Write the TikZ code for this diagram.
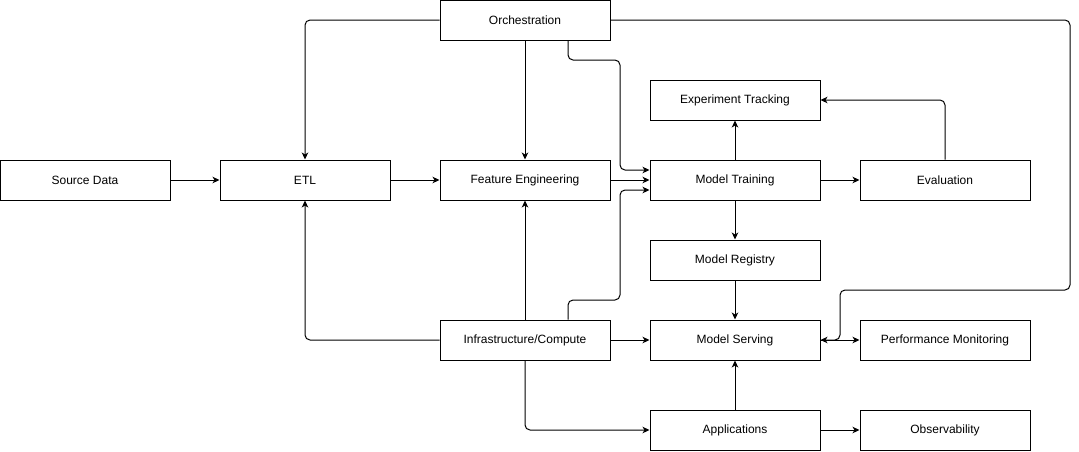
\documentclass[tikz,border=0pt]{standalone}
\usepackage{fontspec}
\setmainfont{Liberation Sans}
\usepackage{tikz}
\usetikzlibrary{arrows.meta, positioning}

\tikzset{
  stage/.style={draw, line width=1pt, minimum width=170pt, minimum height=40pt,
    inner sep=0pt, font=\fontsize{12}{14}\selectfont},
  flow/.style={line width=1pt, rounded corners=5pt,
    -{Stealth[length=7pt, width=6.5pt, inset=2pt]}}
}

\begin{document}
\begin{tikzpicture}[x=1pt, y=-1pt]
\useasboundingbox (0,0) rectangle (1079,451);

% boxes
\node[stage] (src)   at (85,180)  {Source Data};
\node[stage] (etl)   at (305,180) {ETL};
\node[stage] (feat)  at (525,180) {Feature Engineering};
\node[stage] (train) at (735,180) {Model Training};
\node[stage] (eval)  at (945,180) {Evaluation};
\node[stage] (orch)  at (525,20)  {Orchestration};
\node[stage] (track) at (735,100) {Experiment Tracking};
\node[stage] (reg)   at (735,260) {Model Registry};
\node[stage] (infra) at (525,340) {Infrastructure/Compute};
\node[stage] (serve) at (735,340) {Model Serving};
\node[stage] (perf)  at (945,340) {Performance Monitoring};
\node[stage] (apps)  at (735,430) {Applications};
\node[stage] (obs)   at (945,430) {Observability};

% bend points
\coordinate (jogTop) at (620,60);
\coordinate (jogBot) at (620,300);
\coordinate (loopR)  at (1070,290);
\coordinate (loopL)  at (840,290);

% main line
\draw[flow] (src) -- (etl);
\draw[flow] (etl) -- (feat);
\draw[flow] (feat) -- (train);
\draw[flow] (train) -- (eval);
\draw[flow] (train) -- (track);
\draw[flow] (train) -- (reg);
\draw[flow] (reg) -- (serve);
\draw[flow] (eval.north) |- (track.east);

% orchestration
\draw[flow] (orch.west) -| (etl.north);
\draw[flow] (orch) -- (feat);
\draw[flow] ([xshift=-42.5pt]orch.south east) |- (jogTop) |- ([yshift=10pt]train.west);
\draw[flow] (orch.east) -| (loopR) -- (loopL) |- (serve.east);

% infrastructure
\draw[flow] (infra.west) -| (etl.south);
\draw[flow] (infra) -- (feat);
\draw[flow] ([xshift=-42.5pt]infra.north east) |- (jogBot) |- ([yshift=-10pt]train.west);
\draw[flow] (infra) -- (serve);
\draw[flow] (infra.south) |- (apps.west);

% serving side
\draw[flow] (serve) -- (perf);
\draw[flow] (apps) -- (serve);
\draw[flow] (apps) -- (obs);
\end{tikzpicture}
\end{document}
